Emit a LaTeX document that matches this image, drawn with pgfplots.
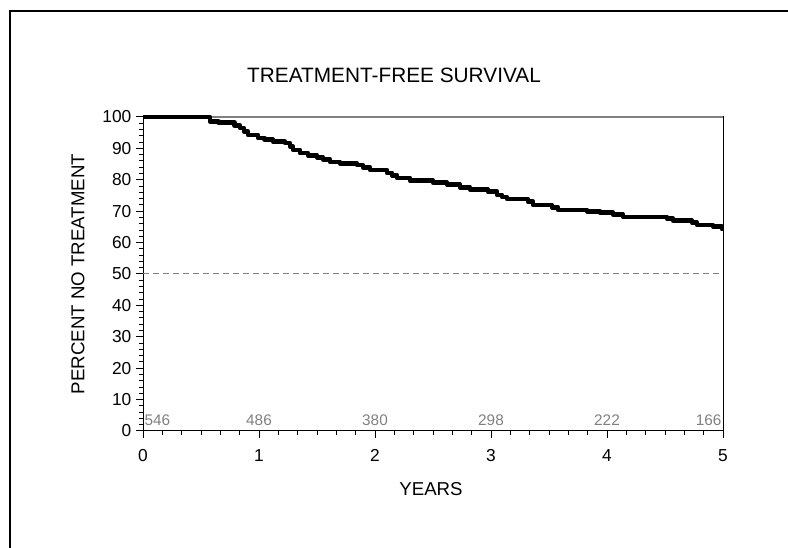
\documentclass[border=0pt]{standalone}
\usepackage{fontspec}
\setmainfont{Liberation Sans}
\usepackage{pgfplots}
\pgfplotsset{compat=1.18}
\begin{document}
\begin{tikzpicture}
\useasboundingbox (0,0) rectangle (591pt,411pt);
\draw[line width=1.6pt] (7.5pt,0) -- (7.5pt,403pt) -- (591pt,403pt);
\begin{axis}[
  at={(107.25pt,87.75pt)}, anchor=south west,
  scale only axis, width=435pt, height=235.5pt,
  xmin=0, xmax=5, ymin=0, ymax=100,
  xtick={0,1,2,3,4,5}, ytick={0,10,...,100},
  minor x tick num=5, minor y tick num=4,
  tick align=outside, tick pos=left,
  major tick length=5.25pt, minor tick length=3pt,
  every tick/.style={black, line width=0.75pt},
  axis line style={line width=0.75pt},
  clip=false,
  /pgf/number format/assume math mode=true,
  ticklabel style={font=\fontsize{13}{15}\selectfont},
  xticklabel style={yshift=-5pt},
  title={TREATMENT-FREE SURVIVAL},
  title style={at={(axis description cs:0.4328,1)}, anchor=base, yshift=19.5pt, font=\fontsize{15.6}{18}\selectfont},
  xlabel={YEARS},
  xlabel style={at={(axis description cs:0.4966,0)}, anchor=base, yshift=-48.75pt, font=\fontsize{14}{16}\selectfont},
  ylabel={PERCENT NO TREATMENT},
  ylabel style={at={(axis description cs:0,0.5)}, anchor=center, yshift=48.75pt, font=\fontsize{14}{16}\selectfont},
]
\draw[gray, line width=1.1pt] (rel axis cs:0,1) -- (rel axis cs:1,1);
\addplot[gray, line width=0.75pt, dash pattern=on 4.5pt off 3pt] coordinates {(0,50) (5,50)};
\addplot[black, line width=3.5pt, const plot, line join=round] coordinates {
(0.000,100) (0.560,100) (0.578,98.6) (0.650,98.2) (0.790,97.3) (0.836,96.5)
(0.871,95.4) (0.905,94.3) (0.991,93.3) (1.050,92.8) (1.121,92.1) (1.224,91.7)
(1.267,90.6) (1.293,89.5) (1.353,88.5) (1.422,87.8) (1.500,87.2) (1.552,86.5)
(1.612,85.7) (1.698,85.2) (1.845,84.7) (1.897,84.0) (1.957,83.1) (2.103,82.2)
(2.147,81.4) (2.190,80.6) (2.302,79.7) (2.500,79.1) (2.621,78.4) (2.733,77.6)
(2.819,77.0) (2.974,76.2) (3.052,75.2) (3.095,74.5) (3.138,73.9) (3.319,73.0)
(3.362,72.0) (3.526,71.2) (3.578,70.4) (3.828,70.0) (3.940,69.5) (4.052,69.0)
(4.138,68.2) (4.517,67.6) (4.569,67.0) (4.733,66.3) (4.776,65.6) (4.914,65.1)
(4.991,64.3) (5.000,64.3)};
\begin{scope}[every node/.style={text=gray, font=\fontsize{11.5}{13}\selectfont, inner sep=1pt}]
\node[anchor=west] at (axis cs:0,3.3) {546};
\node at (axis cs:1,3.3) {486};
\node at (axis cs:2,3.3) {380};
\node at (axis cs:3,3.3) {298};
\node at (axis cs:4,3.3) {222};
\node[anchor=east] at (axis cs:5,3.3) {166};
\end{scope}
\end{axis}
\end{tikzpicture}
\end{document}
